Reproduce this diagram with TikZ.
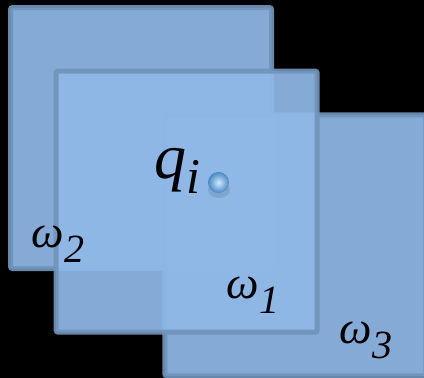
\documentclass[tikz,border=0pt]{standalone}
\usepackage{fontspec}
\setmainfont{Liberation Serif}
\usepackage{tikz}
\usetikzlibrary{shadings}

\definecolor{regionfill}{RGB}{144,185,232}
\definecolor{regionedge}{RGB}{112,148,186}
\definecolor{pointhi}{RGB}{205,235,255}
\definecolor{pointlo}{RGB}{75,135,195}

\newcommand{\omegasub}[1]{{\fontsize{46}{46}\selectfont\itshape ω\kern1pt\raisebox{-15pt}{\fontsize{40}{40}\selectfont #1}}}

\begin{document}
\begin{tikzpicture}[
  x=1pt, y=-1pt,
  region/.style={draw=regionedge, fill=regionfill, line width=5pt,
                 rounded corners=2pt, fill opacity=0.92, draw opacity=0.92,
                 minimum size=261pt, inner sep=0pt},
  lbl/.style={anchor=base west, inner sep=0pt, text=black}
]
\fill[black] (0,0) rectangle (424,378);
\clip (0,0) rectangle (424,378);

% the three regions, omega_1 on top
\node[region] (omegaTwo) at (141,138) {};
\node[region] (omegaThree) at (295.3,245.3) {};
\node[region] (omegaOne) at (186.7,201.7) {};

\node[lbl] (labTwo) at (31,247) {\omegasub{2}};
\node[lbl] (labOne) at (226,298) {\omegasub{1}};
\node[lbl] (labThree) at (339,343) {\omegasub{3}};

% the point q_i
\fill[black, opacity=0.10] (219,190) ellipse (11pt and 8pt);
\shade[inner color=pointhi, outer color=pointlo] (218.5,182.5) circle (10.5pt);
\coordinate (qpoint) at (218.5,182.5);
\node[lbl] (qlabel) at (154,178) {\fontsize{64}{64}\selectfont\itshape q\raisebox{-15pt}{\fontsize{50}{50}\selectfont i}};
\end{tikzpicture}
\end{document}
